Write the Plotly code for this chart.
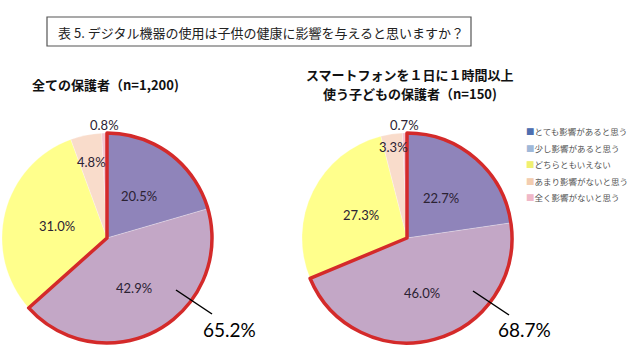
import math
import plotly.graph_objects as go

# ---- data ----
labels = ["とても影響があると思う", "少し影響があると思う", "どちらともいえない",
          "あまり影響がないと思う", "全く影響がないと思う"]
all_parents = [20.5, 42.9, 31.0, 4.8, 0.8]
smartphone_parents = [22.7, 46.0, 27.3, 3.3, 0.7]
highlight_totals = ["65.2%", "68.7%"]
title_text = "表 5. デジタル機器の使用は子供の健康に影響を与えると思いますか？"
subtitle_left = "全ての保護者（n=1,200)"
subtitle_right_lines = ["スマートフォンを１日に１時間以上", "使う子どもの保護者（n=150)"]

# ---- styles ----
slice_colors = ["#8f84ba", "#c3a7c6", "#ffff8c", "#f9dccb", "#f5c6d0"]
legend_colors = ["#4f6fb0", "#9fb8d8", "#f0f070", "#f3cdb0", "#f0b8c8"]
W, H = 640, 363
JP = "Noto Sans CJK JP"
NUM = "Lato"
RED = "#d42a2a"


def px(x, y):
    return x / W, 1 - y / H


def dom(cx, cy, r):
    return dict(x=[(cx - r) / W, (cx + r) / W], y=[1 - (cy + r) / H, 1 - (cy - r) / H])


fig = go.Figure()
shapes = []
annotations = []

pies = [
    (all_parents, (107, 238, 105), [0.5, 0.54, 0.49, 0.74, 1.08]),
    (smartphone_parents, (407, 238, 105), [0.5, 0.54, 0.49, 0.88, 1.08]),
]
for vals, (cx, cy, r), radial in pies:
    fig.add_trace(go.Pie(
        labels=labels, values=vals, sort=False, direction="clockwise", rotation=0,
        domain=dom(cx, cy, r),
        marker=dict(colors=slice_colors, line=dict(color="rgba(255,255,255,0.5)", width=0.5)),
        textinfo="none", showlegend=False, hoverinfo="label+value",
    ))
    # red outline around the first two categories
    top2 = vals[0] + vals[1]
    rest = sum(vals) - top2
    fig.add_trace(go.Pie(
        values=[top2, rest], labels=["top2", "rest"], sort=False, direction="clockwise",
        rotation=0, domain=dom(cx, cy, r),
        marker=dict(colors=["rgba(0,0,0,0)", "rgba(0,0,0,0)"],
                    line=dict(color=RED, width=[3.5, 0])),
        textinfo="none", showlegend=False, hoverinfo="skip",
    ))
    # value labels placed at each slice's mid angle
    total = sum(vals)
    cum = 0.0
    for v, k in zip(vals, radial):
        theta = math.radians((cum + v / 2) / total * 360)
        cum += v
        lx = cx + k * r * math.sin(theta)
        ly = cy - k * r * math.cos(theta)
        ax, ay = px(lx, ly)
        annotations.append(dict(text=f"{v:.1f}%", x=ax, y=ay, xref="paper", yref="paper",
                                xanchor="center", yanchor="middle", showarrow=False,
                                font=dict(family=NUM, size=13, color="#2b2233")))

# title box
x0, y0 = px(47, 17)
x1, y1 = px(471, 46)
shapes.append(dict(type="rect", xref="paper", yref="paper", x0=x0, x1=x1, y0=y1, y1=y0,
                   line=dict(color="#555555", width=1.2), fillcolor="white", layer="below"))
tx, ty = px(56, 32)
annotations.append(dict(text=title_text, x=tx, y=ty, xref="paper", yref="paper",
                        xanchor="left", yanchor="middle", showarrow=False,
                        font=dict(family=JP, size=13, color="#222222")))

# subtitles
sx, sy = px(30, 84)
annotations.append(dict(text="<b>" + subtitle_left + "</b>", x=sx, y=sy, xref="paper", yref="paper",
                        xanchor="left", yanchor="middle", showarrow=False,
                        font=dict(family=JP, size=13, color="#111111")))
for i, line in enumerate(subtitle_right_lines):
    sx, sy = px(410, 75 + 18 * i)
    annotations.append(dict(text="<b>" + line + "</b>", x=sx, y=sy, xref="paper", yref="paper",
                            xanchor="center", yanchor="middle", showarrow=False,
                            font=dict(family=JP, size=13, color="#111111")))

# highlight totals with leader lines
leaders = [((176, 290), (212, 314), (229, 329)), ((473, 291), (509, 315), (524, 329))]
for total, (p0, p1, pt) in zip(highlight_totals, leaders):
    a0, b0 = px(*p0)
    a1, b1 = px(*p1)
    shapes.append(dict(type="line", xref="paper", yref="paper", x0=a0, y0=b0, x1=a1, y1=b1,
                       line=dict(color="black", width=1.5)))
    ax, ay = px(*pt)
    annotations.append(dict(text=total, x=ax, y=ay, xref="paper", yref="paper",
                            xanchor="center", yanchor="middle", showarrow=False,
                            font=dict(family=NUM, size=19, color="#000000")))

# legend
for i, (lab, col) in enumerate(zip(labels, legend_colors)):
    lx, ly = px(524, 131 + i * 16.6)
    annotations.append(dict(text=f'<span style="color:{col}">■</span>{lab}', x=lx, y=ly,
                            xref="paper", yref="paper", xanchor="left", yanchor="middle",
                            showarrow=False, font=dict(family=JP, size=8.5, color="#555555")))

fig.update_layout(width=W, height=H, margin=dict(l=0, r=0, t=0, b=0),
                  paper_bgcolor="white", plot_bgcolor="white",
                  shapes=shapes, annotations=annotations)
fig.write_html("out.html", config={"displayModeBar": False},
               post_script="document.body.style.margin='0px';")
